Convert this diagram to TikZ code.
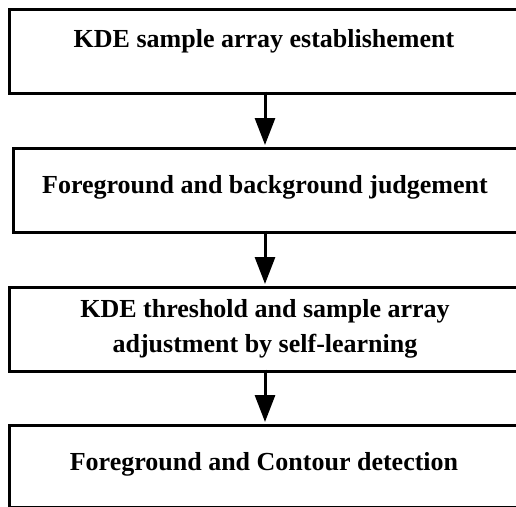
\documentclass[tikz,border=0pt]{standalone}
\usepackage{fontspec}
\setmainfont{Liberation Serif}
\usetikzlibrary{arrows.meta}
\begin{document}
\begin{tikzpicture}[x=1pt,y=-1pt,
  boxline/.style={draw=black,line width=3pt,rectangle,anchor=north west,inner sep=0pt},
  lbl/.style={font=\fontsize{26}{30}\selectfont\bfseries,anchor=base,inner sep=0pt},
  flow/.style={line width=3pt,-{Triangle[width=20pt,length=27pt]},shorten >=1.5pt}]
\useasboundingbox (0,0) rectangle (516,506);
\clip (0,0) rectangle (516,506);
\fill[white] (0,0) rectangle (516,506);
\node[boxline,minimum width=522.5pt,minimum height=84pt] (b1) at (7.5,7.5) {};
\node[boxline,minimum width=518.5pt,minimum height=84pt] (b2) at (11.5,146.5) {};
\node[boxline,minimum width=522pt,minimum height=84pt] (b3) at (8,285.5) {};
\node[boxline,minimum width=522pt,minimum height=82.5pt] (b4) at (8,423.5) {};
\node[lbl] (t1) at (264,47) {KDE sample array establishement};
\node[lbl] (t2) at (265,193) {Foreground and background judgement};
\node[lbl] (t3a) at (265,317) {KDE threshold and sample array};
\node[lbl] (t3b) at (265,352) {adjustment by self-learning};
\node[lbl] (t4) at (264,470) {Foreground and Contour detection};
\coordinate (a1s) at (265,91.5); \coordinate (a1e) at (265,146.5);
\coordinate (a2s) at (265,230.5); \coordinate (a2e) at (265,285.5);
\coordinate (a3s) at (265,369.5); \coordinate (a3e) at (265,423.5);
\draw[flow] (a1s) -- (a1e);
\draw[flow] (a2s) -- (a2e);
\draw[flow] (a3s) -- (a3e);
\end{tikzpicture}
\end{document}
